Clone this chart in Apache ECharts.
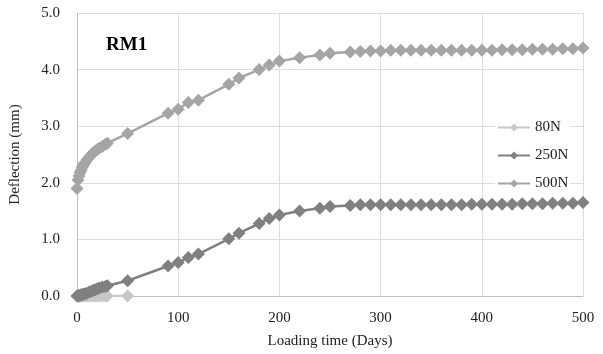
<!DOCTYPE html>
<html>
<head>
<meta charset="utf-8">
<script src="https://cdn.jsdelivr.net/npm/echarts@6/dist/echarts.min.js"></script>
<style>
  html, body { margin: 0; padding: 0; background: #fff; }
  #chart { width: 603px; height: 354px; }
</style>
</head>
<body>
<div id="chart"></div>
<script>
// loading time (days) and deflection (mm)
const days80 = [0, 1, 2, 3, 4, 5, 6, 7, 8, 10, 12, 14, 16, 18, 20, 22, 25, 28, 30, 50];
const defl80 = [0, 0, 0, 0, 0, 0, 0, 0, 0, 0, 0, 0, 0, 0, 0, 0, 0, 0, 0, 0];

const days250 = [0, 1, 2, 3, 4, 5, 6, 7, 8, 10, 12, 14, 16, 18, 20, 22, 25, 28, 30, 50,
  90, 100, 110, 120, 150, 160, 180, 190, 200, 220, 240, 250,
  270, 280, 290, 300, 310, 320, 330, 340, 350, 360, 370, 380, 390, 400,
  410, 420, 430, 440, 450, 460, 470, 480, 490, 500];
const defl250 = [0, 0, 0.01, 0.01, 0.02, 0.02, 0.03, 0.03, 0.04, 0.05, 0.07, 0.08, 0.1, 0.11, 0.13, 0.14, 0.16, 0.17, 0.18, 0.27,
  0.53, 0.59, 0.68, 0.74, 1.01, 1.11, 1.28, 1.37, 1.43, 1.5, 1.55, 1.58,
  1.6, 1.61, 1.61, 1.61, 1.61, 1.61, 1.61, 1.61, 1.61, 1.61, 1.61, 1.61, 1.62, 1.62,
  1.62, 1.62, 1.62, 1.63, 1.63, 1.63, 1.64, 1.64, 1.64, 1.65];

const days500 = days250;
const defl500 = [1.9, 2.05, 2.12, 2.18, 2.22, 2.27, 2.3, 2.33, 2.36, 2.41, 2.45, 2.49, 2.53, 2.56, 2.59, 2.61, 2.64, 2.68, 2.7, 2.87,
  3.23, 3.3, 3.42, 3.46, 3.74, 3.85, 4.0, 4.08, 4.15, 4.21, 4.26, 4.29,
  4.31, 4.32, 4.33, 4.33, 4.34, 4.34, 4.34, 4.34, 4.34, 4.34, 4.34, 4.34, 4.34, 4.34,
  4.34, 4.35, 4.35, 4.35, 4.36, 4.36, 4.36, 4.37, 4.37, 4.38];

const seriesNames = ["80N", "250N", "500N"];
const seriesColors = ["#c8c8c8", "#808080", "#a5a5a5"];

const pair = (xs, ys) => xs.map((x, i) => [x, ys[i]]);
const seriesData = [pair(days80, defl80), pair(days250, defl250), pair(days500, defl500)];

const font = "'Liberation Serif', 'Times New Roman', serif";

const chart = echarts.init(document.getElementById("chart"));
chart.setOption({
  animation: false,
  backgroundColor: "#fff",
  textStyle: { fontFamily: font },
  title: {
    text: "RM1",
    left: 101,
    top: 31,
    textStyle: { fontFamily: font, fontSize: 19, fontWeight: "bold", color: "#000" }
  },
  grid: { left: 75, right: 20, top: 13, bottom: 58 },
  legend: {
    orient: "vertical",
    left: 495,
    top: 120,
    itemWidth: 32,
    itemHeight: 10,
    itemGap: 13,
    backgroundColor: "#fff",
    padding: [0, 2],
    textStyle: { fontFamily: font, fontSize: 15, color: "#222" },
    data: seriesNames
  },
  xAxis: {
    type: "value",
    min: 0,
    max: 500,
    interval: 100,
    name: "Loading time (Days)",
    nameLocation: "middle",
    nameGap: 38,
    nameTextStyle: { fontFamily: font, fontSize: 15, color: "#222" },
    axisLine: { lineStyle: { color: "#bfbfbf" } },
    axisTick: { show: false },
    axisLabel: { fontFamily: font, fontSize: 15, color: "#222", margin: 15 },
    splitLine: { show: true, lineStyle: { color: "#dedede" } }
  },
  yAxis: {
    type: "value",
    min: 0,
    max: 5,
    interval: 1,
    name: "Deflection (mm)",
    nameLocation: "middle",
    nameGap: 54,
    nameTextStyle: { fontFamily: font, fontSize: 15, color: "#222" },
    axisLine: { show: true, lineStyle: { color: "#bfbfbf" } },
    axisTick: { show: false },
    axisLabel: { fontFamily: font, fontSize: 15, color: "#222", margin: 17,
      formatter: (v) => v.toFixed(1) },
    splitLine: { show: true, lineStyle: { color: "#dedede" } }
  },
  series: seriesNames.map((name, i) => ({
    name: name,
    type: "line",
    data: seriesData[i],
    symbol: "diamond",
    symbolSize: 13,
    showAllSymbol: true,
    lineStyle: { width: 2.5, color: seriesColors[i] },
    itemStyle: { color: seriesColors[i] },
    z: 2 + i
  }))
});
</script>
</body>
</html>
